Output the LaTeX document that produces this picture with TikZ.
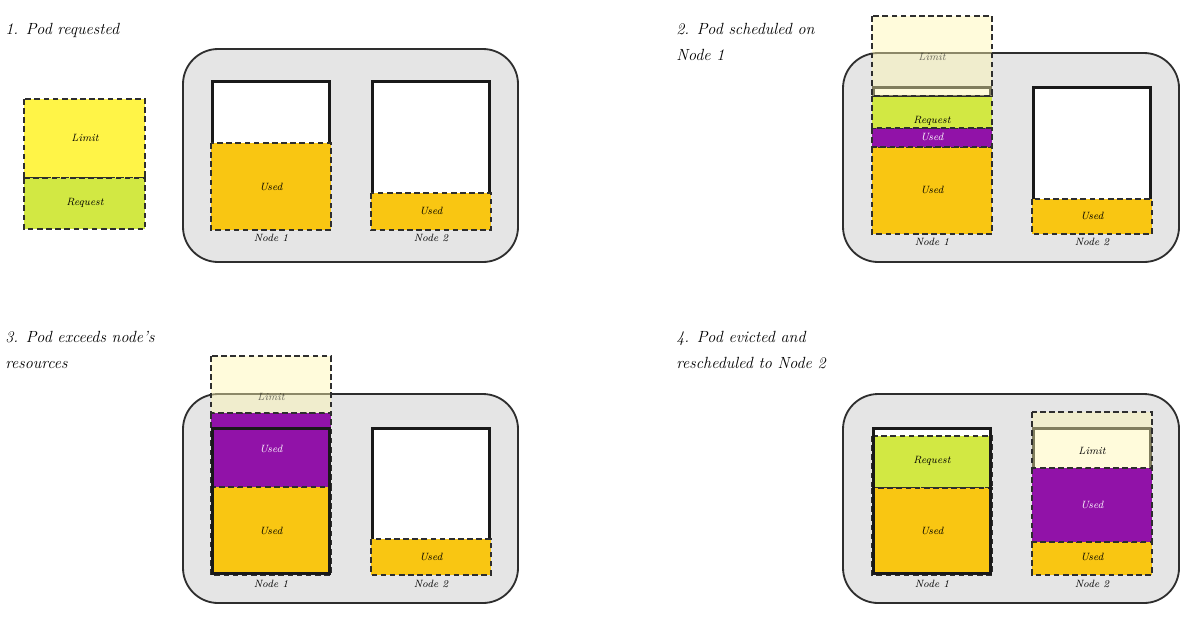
\documentclass[tikz,border=0pt]{standalone}
\usepackage{tikz}
\definecolor{clustergray}{HTML}{E5E5E5}
\definecolor{edgegray}{HTML}{2E2E2E}
\definecolor{usedorange}{HTML}{F9C612}
\definecolor{usedpurple}{HTML}{9112A8}
\definecolor{requestlime}{HTML}{D2E843}
\definecolor{limityellow}{HTML}{FFF447}
\definecolor{limitpale}{HTML}{FFF7B0}

\begin{document}
\begin{tikzpicture}[x=0.025cm,y=-0.025cm,
  cluster/.style={fill=clustergray, draw=edgegray, line width=1.3pt, rounded corners=25pt},
  nodebox/.style={fill=white, draw=black!90, line width=2.2pt},
  nodeedge/.style={draw=black!90, line width=2.2pt},
  slice/.style={draw=edgegray, dash pattern=on 4pt off 2.5pt, line width=1pt},
  ghost/.style={slice, fill=limitpale, fill opacity=0.45},
  lbl/.style={font=\fontsize{7.5}{9}\selectfont\itshape, inner sep=0pt},
  title/.style={font=\fontsize{11.5}{18.5}\selectfont\itshape, anchor=north west, align=left, inner sep=0pt}]
\useasboundingbox (0,0) rectangle (1200,619);

% 1. pod requested
\node[title] (t1) at (5,23) {1. Pod requested};
\filldraw[slice, fill=limityellow] (24,99) rectangle (145,178);
\filldraw[slice, fill=requestlime] (24,178) rectangle (145,229);
\node[lbl] (p1lim) at (85,138) {Limit};
\node[lbl] (p1req) at (85,203) {Request};
\filldraw[cluster] (183,49) rectangle (518,262);
\filldraw[nodebox] (212.5,81.5) rectangle (329.5,228.5);
\filldraw[nodebox] (372.5,81.5) rectangle (489.5,228.5);
\filldraw[slice, fill=usedorange] (211,143) rectangle (331,230);
\filldraw[slice, fill=usedorange] (371,193) rectangle (491,230);
\node[lbl] (p1u1) at (271,187) {Used};
\node[lbl] (p1u2) at (431,211) {Used};
\node[lbl] (p1n1) at (271,238) {Node 1};
\node[lbl] (p1n2) at (431,238) {Node 2};

% 2. scheduled on node 1
\node[title] (t2) at (676,23) {2. Pod scheduled on\\Node 1};
\filldraw[cluster] (843,53) rectangle (1179,262);
\filldraw[nodebox] (873.5,87.5) rectangle (990.5,232.5);
\filldraw[nodebox] (1033.5,87.5) rectangle (1150.5,232.5);
\filldraw[slice, fill=usedorange] (872,147) rectangle (992,234);
\filldraw[slice, fill=usedpurple] (872,128) rectangle (992,147);
\filldraw[slice, fill=requestlime] (872,96) rectangle (992,128);
\filldraw[ghost] (872,16) rectangle (992,96);
\filldraw[slice, fill=usedorange] (1032,199) rectangle (1152,234);
\node[lbl, text opacity=0.55] (p2lim) at (932,57) {Limit};
\node[lbl] (p2req) at (932,121) {Request};
\node[lbl, white] (p2pu) at (932,137) {Used};
\node[lbl] (p2u1) at (932,190) {Used};
\node[lbl] (p2u2) at (1092,216) {Used};
\node[lbl] (p2n1) at (932,242) {Node 1};
\node[lbl] (p2n2) at (1092,242) {Node 2};

% 3. node 1 overflows
\node[title] (t3) at (5,331) {3. Pod exceeds node's\\resources};
\filldraw[cluster] (183,394) rectangle (518,603);
\filldraw[slice, fill=usedorange] (211,487) rectangle (331,575);
\filldraw[slice, fill=usedpurple] (211,413) rectangle (331,487);
\draw[nodeedge] (212.5,428.5) rectangle (329.5,573.5);
\filldraw[ghost] (211,356) rectangle (331,413);
\filldraw[nodebox] (372.5,428.5) rectangle (489.5,573.5);
\filldraw[slice, fill=usedorange] (371,539) rectangle (491,575);
\node[lbl, text opacity=0.55] (p3lim) at (271,397) {Limit};
\node[lbl, white] (p3pu) at (271,449) {Used};
\node[lbl] (p3u1) at (271,531) {Used};
\node[lbl] (p3u2) at (431,557) {Used};
\node[lbl] (p3n1) at (271,584) {Node 1};
\node[lbl] (p3n2) at (431,584) {Node 2};

% 4. moved to node 2
\node[title] (t4) at (676,331) {4. Pod evicted and\\rescheduled to Node 2};
\filldraw[cluster] (843,394) rectangle (1179,603);
\filldraw[nodebox] (873.5,428.5) rectangle (990.5,573.5);
\filldraw[slice, fill=requestlime] (872,436) rectangle (992,488);
\filldraw[slice, fill=usedorange] (872,488) rectangle (992,575);
\draw[nodeedge] (873.5,428.5) rectangle (990.5,573.5);
\filldraw[nodebox] (1033.5,428.5) rectangle (1150.5,573.5);
\filldraw[slice, fill=usedorange] (1032,542) rectangle (1152,575);
\filldraw[slice, fill=usedpurple] (1032,468) rectangle (1152,542);
\filldraw[ghost] (1032,412) rectangle (1152,468);
\node[lbl] (p4req) at (932,461) {Request};
\node[lbl] (p4u1) at (932,531) {Used};
\node[lbl] (p4lim) at (1092,451) {Limit};
\node[lbl, white] (p4pu) at (1092,505) {Used};
\node[lbl] (p4u2) at (1092,557) {Used};
\node[lbl] (p4n1) at (932,584) {Node 1};
\node[lbl] (p4n2) at (1092,584) {Node 2};
\end{tikzpicture}
\end{document}
